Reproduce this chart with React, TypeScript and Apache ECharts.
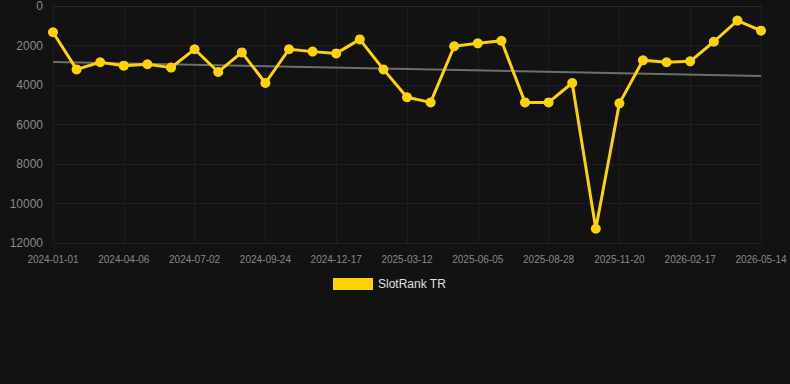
import React, { useEffect, useRef } from "react";
import * as echarts from "echarts";

const dates = [
  "2024-01-01", "2024-02-01", "2024-03-06", "2024-04-06", "2024-05-04", "2024-06-03",
  "2024-07-02", "2024-07-30", "2024-08-27", "2024-09-24", "2024-10-22", "2024-11-19",
  "2024-12-17", "2025-01-14", "2025-02-11", "2025-03-12", "2025-04-09", "2025-05-08",
  "2025-06-05", "2025-07-03", "2025-07-31", "2025-08-28", "2025-09-25", "2025-10-23",
  "2025-11-20", "2025-12-18", "2026-01-19", "2026-02-17", "2026-03-17", "2026-04-15",
  "2026-05-14",
];

const rankValues = [
  1330, 3210, 2850, 3020, 2950, 3120, 2190, 3340, 2350, 3900,
  2190, 2310, 2400, 1690, 3210, 4620, 4880, 2040, 1890, 1760,
  4880, 4880, 3900, 11280, 4930, 2750, 2850, 2800, 1810, 740,
  1250,
];

const trendStart = 2840;
const trendEnd = 3540;

const seriesName = "SlotRank TR";

export default function App() {
  const ref = useRef<HTMLDivElement>(null);
  useEffect(() => {
    document.body.style.margin = "0";
    document.body.style.background = "#121212";
    if (!ref.current) return;
    const chart = echarts.init(ref.current, undefined, { renderer: "svg" });
    chart.setOption({
      animation: false,
      backgroundColor: "#121212",
      grid: { left: 53, right: 29, top: 6, bottom: 141, containLabel: false },
      legend: {
        data: [{ name: seriesName, icon: "rect" }],
        top: 273,
        left: 328,
        itemWidth: 40,
        itemHeight: 12,
        itemGap: 6,
        textStyle: { color: "#e0e0e0", fontSize: 12, fontFamily: "Liberation Sans, Arial, sans-serif" },
      },
      xAxis: {
        type: "category",
        data: dates,
        boundaryGap: false,
        axisLine: { show: true, lineStyle: { color: "#2a2a2a" } },
        axisTick: { show: false },
        axisLabel: {
          interval: 2,
          color: "#888888",
          fontSize: 10,
          margin: 11,
          fontFamily: "Liberation Sans, Arial, sans-serif",
        },
        splitLine: { show: true, interval: 2, lineStyle: { color: "#1e1e1e", width: 1 } },
      },
      yAxis: {
        type: "value",
        inverse: true,
        min: 0,
        max: 12000,
        interval: 2000,
        axisLine: { show: false },
        axisTick: { show: false },
        axisLabel: {
          color: "#8a8a8a",
          fontSize: 12,
          margin: 10,
          fontFamily: "Liberation Sans, Arial, sans-serif",
          formatter: (v: number) => String(v),
        },
        splitLine: { show: true, lineStyle: { color: "#1e1e1e", width: 1 } },
      },
      series: [
        {
          name: seriesName,
          type: "line",
          data: rankValues,
          color: "#ffd200",
          lineStyle: { color: "#ffd200", width: 3 },
          itemStyle: { color: "#ffd200" },
          symbol: "circle",
          symbolSize: 10,
          z: 3,
        },
        {
          name: "trend",
          type: "line",
          data: [
            [dates[0], trendStart],
            [dates[dates.length - 1], trendEnd],
          ],
          symbol: "none",
          lineStyle: { color: "#6e6e6e", width: 2 },
          itemStyle: { color: "#6e6e6e" },
          z: 2,
          silent: true,
        },
      ],
    });
    return () => chart.dispose();
  }, []);
  return <div ref={ref} style={{ width: 790, height: 384 }} />;
}
